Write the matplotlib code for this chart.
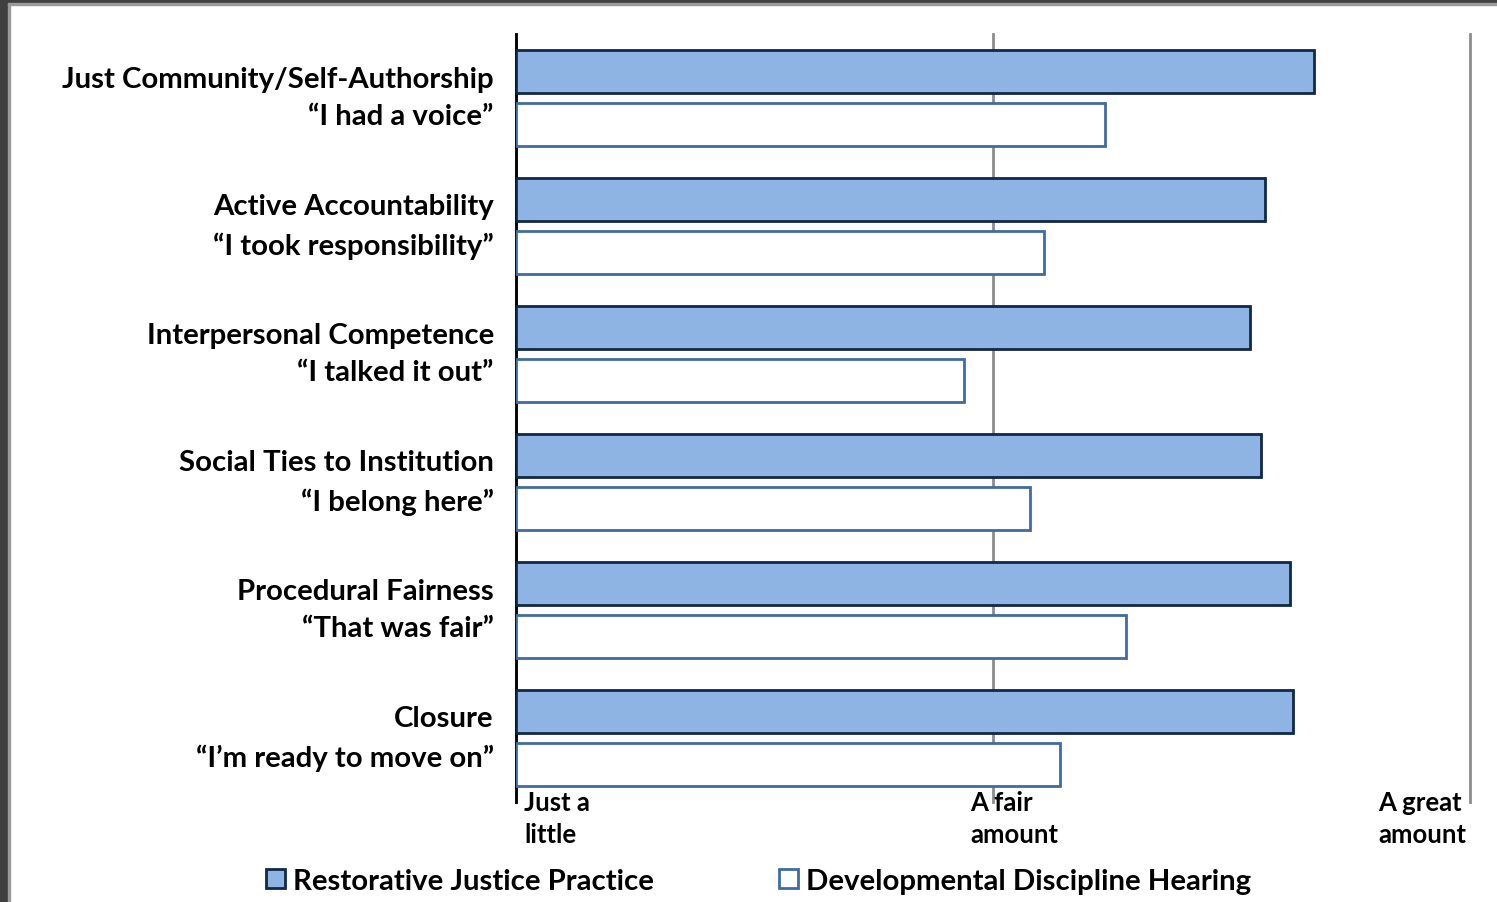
import numpy as np
import matplotlib
matplotlib.use('Agg')
from matplotlib import pyplot as plt
from matplotlib.patches import Rectangle, Patch
import matplotlib.transforms as mtransforms

categories = ['Just Community/Self-Authorship\n\u201cI had a voice\u201d',
              'Active Accountability\n\u201cI took responsibility\u201d',
              'Interpersonal Competence\n\u201cI talked it out\u201d',
              'Social Ties to Institution\n\u201cI belong here\u201d',
              'Procedural Fairness\n\u201cThat was fair\u201d',
              'Closure\n\u201cI\u2019m ready to move on\u201d']
restorative = [2.672, 2.571, 2.538, 2.561, 2.622, 2.628]
hearing = [2.235, 2.107, 1.939, 2.078, 2.279, 2.141]
tick_vals = [1, 2, 3]
tick_labels = ['Just a\nlittle', 'A fair\namount', 'A great\namount']
series_names = ['Restorative Justice Practice', 'Developmental Discipline Hearing']

plt.rcParams['font.family'] = ['Lato', 'DejaVu Sans']
plt.rcParams['font.weight'] = 'bold'

fig = plt.figure(figsize=(14.97, 9.03), dpi=100)
ax = fig.add_axes([0.3447, 0.1107, 0.982 - 0.3447, 0.9612 - 0.1107])

y = np.arange(len(categories))
h = 0.336
off = 0.207
base = 1
ax.barh(y - off, np.array(restorative) - base, left=base, height=h,
        color='#8EB4E3', edgecolor='#10284a', linewidth=2, zorder=3)
ax.barh(y + off, np.array(hearing) - base, left=base, height=h,
        color='white', edgecolor='#3e6ba3', linewidth=2, zorder=3)

ax.set_xlim(1, 3)
ax.set_ylim(len(categories) - 0.5, -0.5)
ax.set_yticks(y)
ax.set_yticklabels(categories, fontsize=21.2, fontweight='bold', linespacing=1.55)
ax.tick_params(axis='y', length=0, pad=16)
for lbl in ax.get_yticklabels():
    lbl.set_multialignment('right')
    lbl.set_transform(lbl.get_transform() + mtransforms.ScaledTranslation(0, 0.09, fig.dpi_scale_trans))

ax.set_xticks(tick_vals)
ax.set_xticklabels(tick_labels, fontsize=18.5, fontweight='bold', linespacing=1.38)
ax.tick_params(axis='x', length=0, pad=0)
shifts = [8, -23, -92]
for lbl, dx in zip(ax.get_xticklabels(), shifts):
    lbl.set_horizontalalignment('left')
    lbl.set_multialignment('left')
    lbl.set_transform(lbl.get_transform() + mtransforms.ScaledTranslation(dx / 100, 0.12, fig.dpi_scale_trans))

ax.xaxis.grid(True, color='#8c8c8c', linewidth=2)
ax.set_axisbelow(True)
for gl in ax.get_xgridlines():
    gl.set_clip_on(False)
for s in ['top', 'right', 'bottom']:
    ax.spines[s].set_visible(False)
ax.spines['left'].set_linewidth(2)
ax.spines['left'].set_color('black')

handles = [Patch(facecolor='#8EB4E3', edgecolor='#10284a', linewidth=2),
           Patch(facecolor='white', edgecolor='#3e6ba3', linewidth=2)]
fig.legend(handles, series_names, loc='center', bbox_to_anchor=(0.507, 0.023),
           ncol=2, frameon=False, handlelength=0.62, handleheight=0.62,
           handletextpad=0.3, columnspacing=4.25, prop={'weight': 'bold', 'size': 21.2})

# page border
fig.patches.append(Rectangle((0, 0), 8 / 1497, 1, transform=fig.transFigure, color='#404040', zorder=10))
fig.patches.append(Rectangle((8 / 1497, 0), 2 / 1497, 1, transform=fig.transFigure, color='#9a9a9a', zorder=10))
fig.patches.append(Rectangle((0, 1 - 4 / 903), 1, 4 / 903, transform=fig.transFigure, color='#404040', zorder=10))
fig.patches.append(Rectangle((8 / 1497, 1 - 6 / 903), 1, 2 / 903, transform=fig.transFigure, color='#9a9a9a', zorder=10))

fig.savefig('out.png', dpi=100)
